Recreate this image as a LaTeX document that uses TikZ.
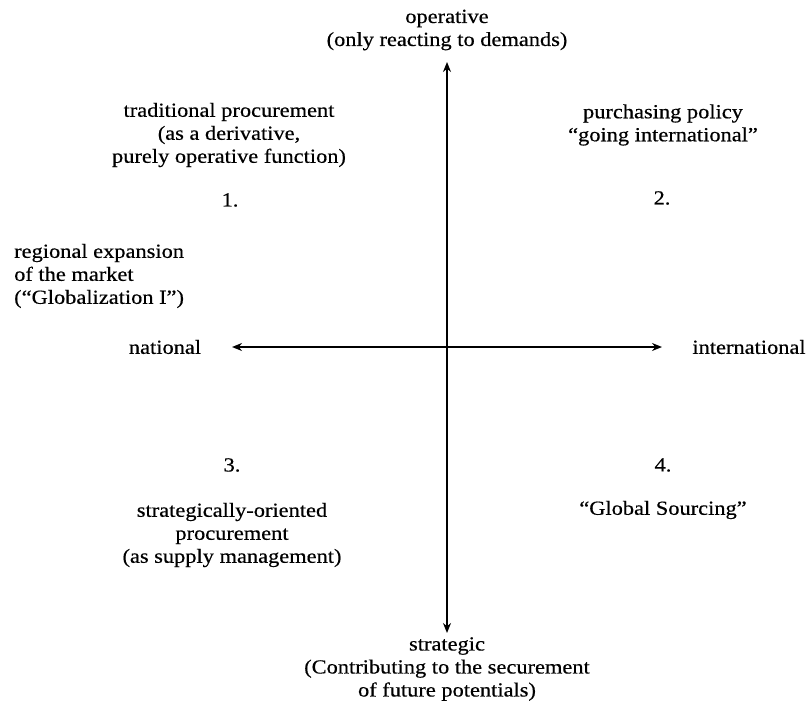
\documentclass[tikz,border=0pt]{standalone}
\usepackage{fontspec}
\setmainfont{Liberation Serif}[FakeStretch=1.12,FakeBold=0.5]
\usetikzlibrary{arrows.meta}
\begin{document}
\begin{tikzpicture}[x=1pt,y=-1pt,
  lbl/.style={inner sep=0pt, align=center, font=\fontsize{20}{23}\selectfont},
  axis/.style={line width=1.7pt, {Stealth[length=10pt,width=8pt]}-{Stealth[length=10pt,width=8pt]}}]
\useasboundingbox (0,0) rectangle (809,709);
% axis end points
\coordinate (T) at (447,62);
\coordinate (B) at (447,633);
\coordinate (L) at (232,347);
\coordinate (R) at (662,347);
\draw[axis] (T) -- (B);
\draw[axis] (L) -- (R);
% axis labels
\node[lbl] (op) at (447,30) {operative\\(only reacting to demands)};
\node[lbl] (st) at (447,669) {strategic\\(Contributing to the securement\\of future potentials)};
\node[lbl] (nat) at (165,347) {national};
\node[lbl] (intl) at (749,347) {international};
% quadrant texts
\node[lbl] (q1) at (229,135) {traditional procurement\\(as a derivative,\\purely operative function)};
\node[lbl] (n1) at (230,200) {1.};
\node[lbl] (q2) at (663,125) {purchasing policy\\“going international”};
\node[lbl] (n2) at (662,198) {2.};
\node[lbl, align=left, anchor=west] (reg) at (14,276) {regional expansion\\of the market\\(“Globalization I”)};
\node[lbl] (n3) at (232,465) {3.};
\node[lbl] (q3) at (232,535) {strategically-oriented\\procurement\\(as supply management)};
\node[lbl] (n4) at (663,465) {4.};
\node[lbl] (q4) at (663,510) {“Global Sourcing”};
\end{tikzpicture}
\end{document}
